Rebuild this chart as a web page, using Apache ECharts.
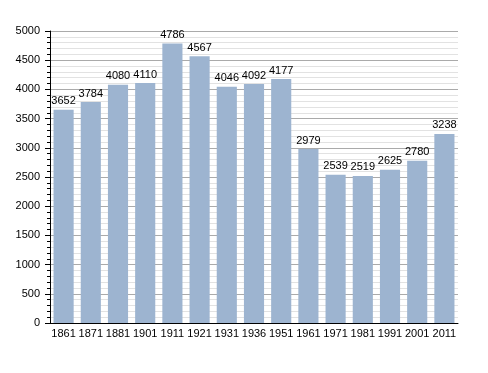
<!DOCTYPE html>
<html><head><meta charset="utf-8">
<script src="https://cdn.jsdelivr.net/npm/echarts@6/dist/echarts.min.js"></script>
<style>html,body{margin:0;padding:0;background:#fff}#c{width:488px;height:373px}</style>
</head><body><div id="c"></div>
<script>
var years = ['1861','1871','1881','1901','1911','1921','1931','1936','1951','1961','1971','1981','1991','2001','2011'];
var population = [3652,3784,4080,4110,4786,4567,4046,4092,4177,2979,2539,2519,2625,2780,3238];
var chart = echarts.init(document.getElementById('c'));
chart.setOption({
  animation:false,
  textStyle:{fontFamily:'Liberation Sans, Arial, sans-serif'},
  grid:{left:50,right:30,top:31,bottom:50},
  xAxis:{type:'category',data:years,
    axisLine:{lineStyle:{color:'#000',width:1}},
    axisTick:{show:false},
    axisLabel:{color:'#000',fontSize:11,margin:5,interval:0}},
  yAxis:{type:'value',min:0,max:5000,interval:500,
    axisLine:{show:true,lineStyle:{color:'#000'}},
    axisTick:{show:true,inside:false,length:5,lineStyle:{color:'#000'}},
    minorTick:{show:true,splitNumber:5,length:3,lineStyle:{color:'#000'}},
    axisLabel:{color:'#000',fontSize:11,margin:10,formatter:function(v){return String(v);}},
    splitLine:{lineStyle:{color:'#aaaaaa',width:1}},
    minorSplitLine:{show:true,lineStyle:{color:'#e2e2e2',width:1}}},
  series:[{type:'bar',data:population,barCategoryGap:'26%',
    itemStyle:{color:'#9db4d0'},
    label:{show:true,position:'top',color:'#000',fontSize:11,distance:3}}]
});
</script></body></html>
